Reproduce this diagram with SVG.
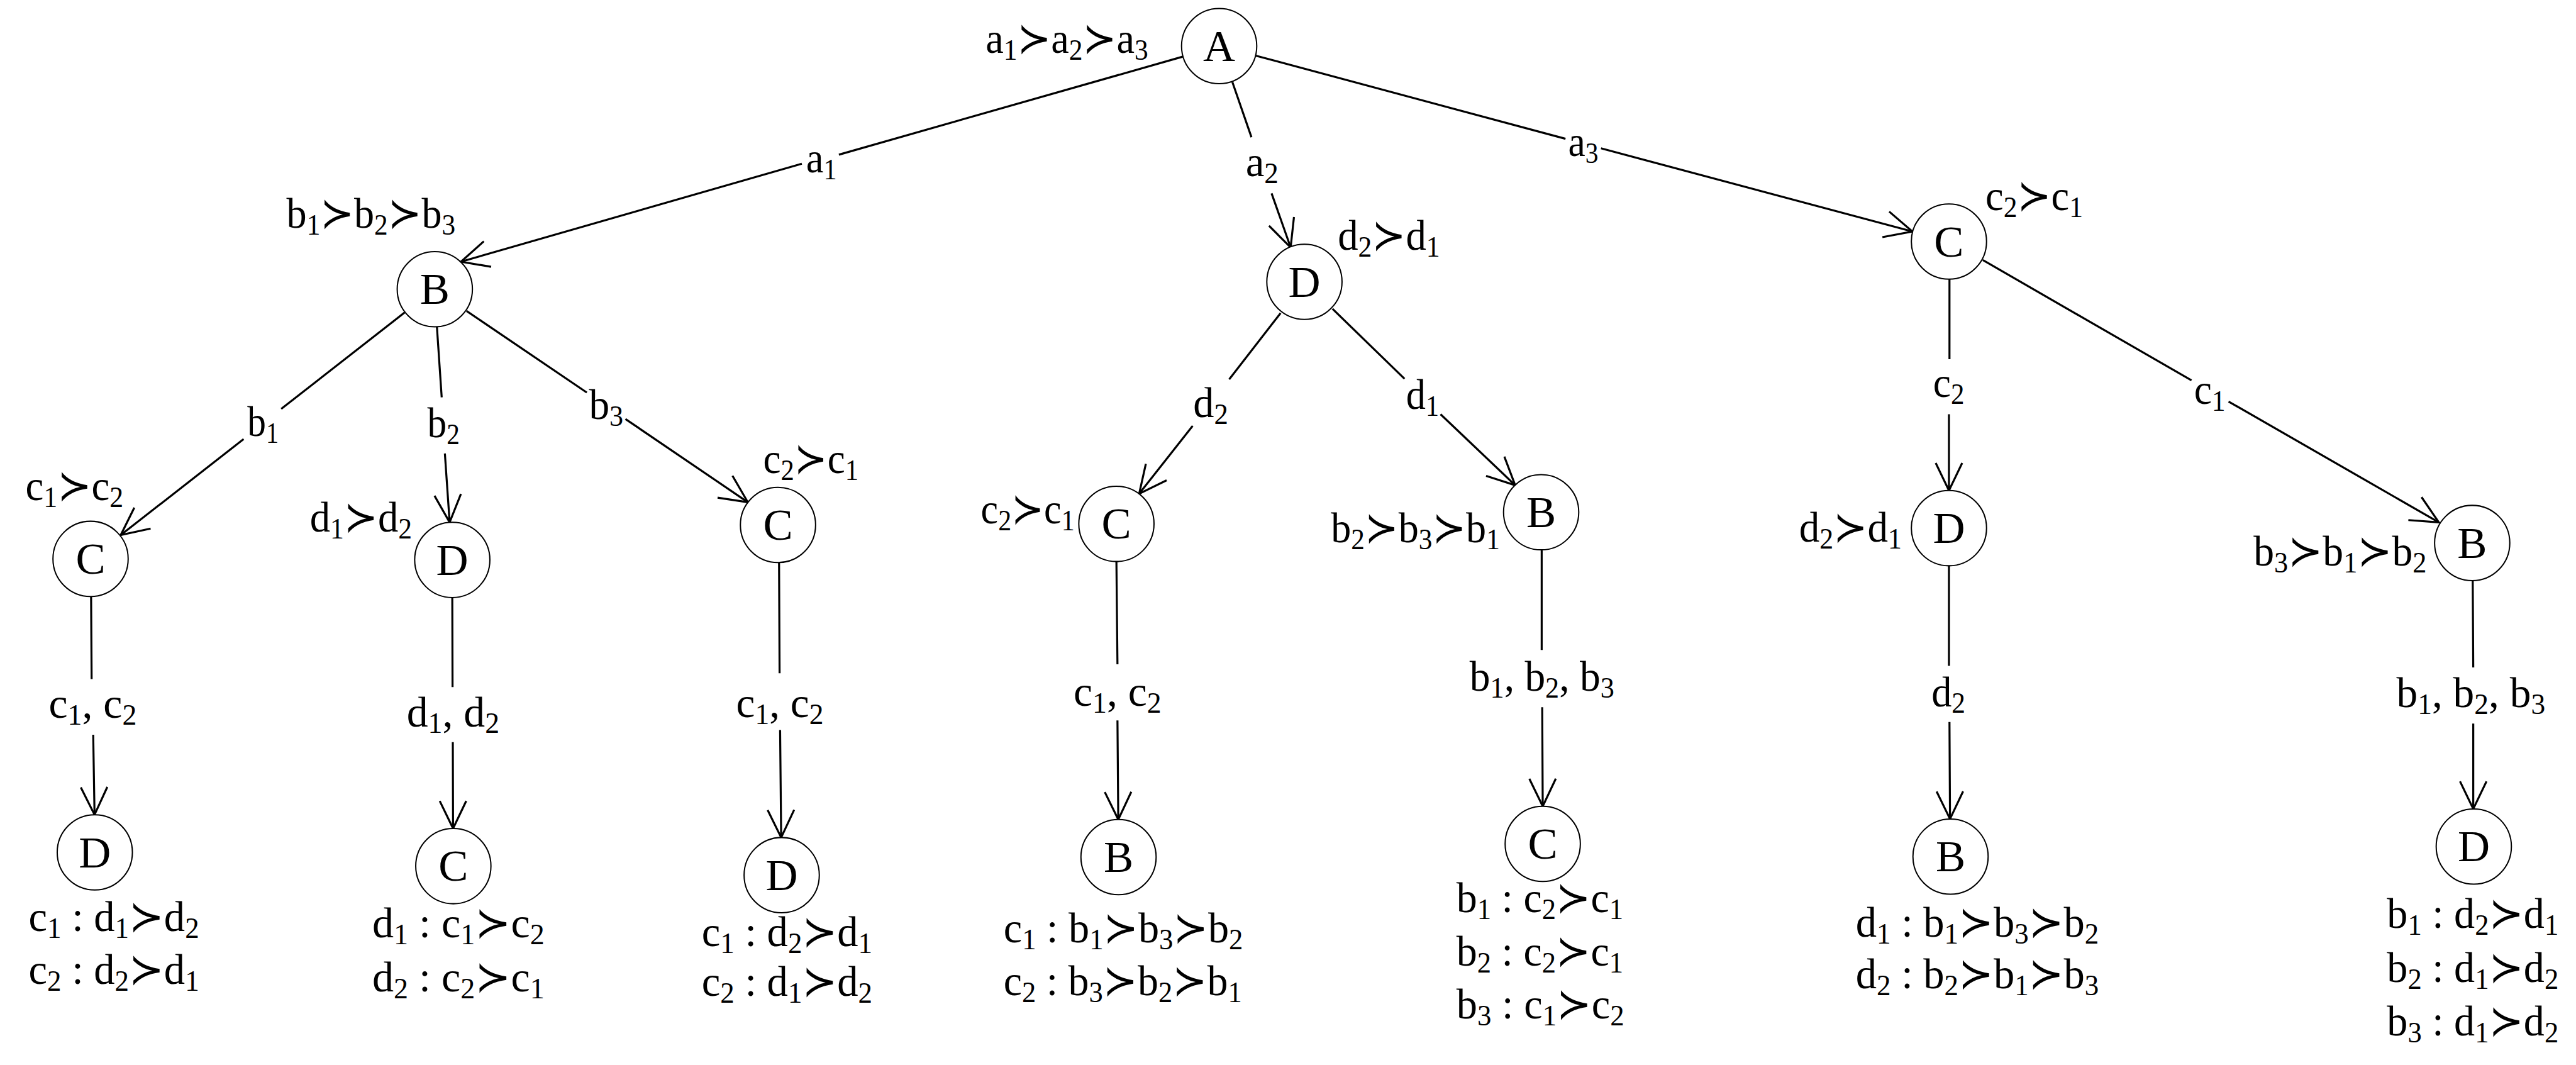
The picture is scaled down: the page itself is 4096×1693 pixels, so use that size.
<svg xmlns="http://www.w3.org/2000/svg" width="4096" height="1693" viewBox="0 0 4096 1693">
<style>
.n{fill:#fff;stroke:#000;stroke-width:2.4}
.nl{font-family:"Liberation Serif","DejaVu Serif","DejaVu Sans",serif;font-size:84px;text-anchor:middle;fill:#000}
.l{font-family:"Liberation Serif","DejaVu Serif","DejaVu Sans",serif;font-size:80px;fill:#000}
.s{font-size:54px}
.e{fill:none;stroke:#000;stroke-width:3.8;marker-end:url(#arr)}
</style>
<defs>
<marker id="arr" markerUnits="userSpaceOnUse" viewBox="-70 -40 80 80" markerWidth="80" markerHeight="80" refX="0" refY="0" orient="auto">
<path d="M-52,-25 L0,0 L-52,25" fill="none" stroke="#000" stroke-width="3.8" stroke-linejoin="miter"/>
</marker>
</defs>
<rect width="4096" height="1693" fill="#fff"/>
<g transform="scale(0.842105)">
<g id="connectors">
<path class="e" d="M2233,107 L1584,292 M1514,309 L870.5,494"/>
<path class="e" d="M2327,155 L2363,259 M2401,365 L2437,467"/>
<path class="e" d="M2371,105 L2956,262 M3023,280 L3611,437"/>
<path class="e" d="M764,590 L531,772 M460,829 L228,1010"/>
<path class="e" d="M825,617 L834,750 M840,856 L849,986"/>
<path class="e" d="M881,587 L1108,741 M1181,791 L1412,948"/>
<path class="e" d="M2418,591 L2321,716 M2252,804 L2151,932"/>
<path class="e" d="M2516,583 L2652,715 M2720,782 L2861,916"/>
<path class="e" d="M3681,527 L3681,678 M3680,782 L3680,926"/>
<path class="e" d="M3744,491 L4138,718 M4208,758 L4605,986"/>
<path class="e" d="M172,1126 L173,1282 M176,1387 L178.5,1538"/>
<path class="e" d="M854,1128 L854.5,1297 M855,1401 L855.5,1564"/>
<path class="e" d="M1471,1062 L1472,1271 M1473,1378 L1475,1581"/>
<path class="e" d="M2108,1060 L2110,1254 M2110,1360 L2111.5,1547"/>
<path class="e" d="M2911,1039 L2911,1227 M2912,1335 L2913,1522"/>
<path class="e" d="M3680,1068 L3680,1257 M3681,1363 L3682,1546"/>
<path class="e" d="M4669,1097 L4670,1260 M4670,1366 L4670,1527"/>
</g>
<g id="edge-labels">
<text class="l" x="1522" y="325" textLength="58" lengthAdjust="spacingAndGlyphs">a<tspan class="s" dy="13">1</tspan></text>
<text class="l" x="2352" y="333" textLength="62" lengthAdjust="spacingAndGlyphs">a<tspan class="s" dy="13">2</tspan></text>
<text class="l" x="2961" y="295" textLength="57" lengthAdjust="spacingAndGlyphs">a<tspan class="s" dy="13">3</tspan></text>
<text class="l" x="467" y="823" textLength="59" lengthAdjust="spacingAndGlyphs">b<tspan class="s" dy="13">1</tspan></text>
<text class="l" x="807" y="825" textLength="61" lengthAdjust="spacingAndGlyphs">b<tspan class="s" dy="13">2</tspan></text>
<text class="l" x="1112" y="791" textLength="65" lengthAdjust="spacingAndGlyphs">b<tspan class="s" dy="13">3</tspan></text>
<text class="l" x="2253" y="787" textLength="66" lengthAdjust="spacingAndGlyphs">d<tspan class="s" dy="13">2</tspan></text>
<text class="l" x="2655" y="772" textLength="62" lengthAdjust="spacingAndGlyphs">d<tspan class="s" dy="13">1</tspan></text>
<text class="l" x="3650" y="749" textLength="59" lengthAdjust="spacingAndGlyphs">c<tspan class="s" dy="13">2</tspan></text>
<text class="l" x="4143" y="762" textLength="59" lengthAdjust="spacingAndGlyphs">c<tspan class="s" dy="13">1</tspan></text>
<text class="l" x="92" y="1355" textLength="166" lengthAdjust="spacingAndGlyphs">c<tspan class="s" dy="13">1</tspan><tspan dy="-13">, c</tspan><tspan class="s" dy="13">2</tspan></text>
<text class="l" x="768" y="1371" textLength="175" lengthAdjust="spacingAndGlyphs">d<tspan class="s" dy="13">1</tspan><tspan dy="-13">, d</tspan><tspan class="s" dy="13">2</tspan></text>
<text class="l" x="1390" y="1354" textLength="165" lengthAdjust="spacingAndGlyphs">c<tspan class="s" dy="13">1</tspan><tspan dy="-13">, c</tspan><tspan class="s" dy="13">2</tspan></text>
<text class="l" x="2027" y="1332" textLength="166" lengthAdjust="spacingAndGlyphs">c<tspan class="s" dy="13">1</tspan><tspan dy="-13">, c</tspan><tspan class="s" dy="13">2</tspan></text>
<text class="l" x="2775" y="1304" textLength="273" lengthAdjust="spacingAndGlyphs">b<tspan class="s" dy="13">1</tspan><tspan dy="-13">, b</tspan><tspan class="s" dy="13">2</tspan><tspan dy="-13">, b</tspan><tspan class="s" dy="13">3</tspan></text>
<text class="l" x="3647" y="1333" textLength="64" lengthAdjust="spacingAndGlyphs">d<tspan class="s" dy="13">2</tspan></text>
<text class="l" x="4525" y="1335" textLength="281" lengthAdjust="spacingAndGlyphs">b<tspan class="s" dy="13">1</tspan><tspan dy="-13">, b</tspan><tspan class="s" dy="13">2</tspan><tspan dy="-13">, b</tspan><tspan class="s" dy="13">3</tspan></text>
</g>
<g id="nA"><circle class="n" cx="2302" cy="87" r="71"/><text class="nl" x="2302" y="115">A</text>
<text class="l" x="1861" y="100" textLength="307" lengthAdjust="spacingAndGlyphs">a<tspan class="s" dy="13">1</tspan><tspan dy="-13">≻a</tspan><tspan class="s" dy="13">2</tspan><tspan dy="-13">≻a</tspan><tspan class="s" dy="13">3</tspan></text></g>
<g id="nB1"><circle class="n" cx="821" cy="546" r="71"/><text class="nl" x="821" y="574">B</text>
<text class="l" x="541" y="430" textLength="319" lengthAdjust="spacingAndGlyphs">b<tspan class="s" dy="13">1</tspan><tspan dy="-13">≻b</tspan><tspan class="s" dy="13">2</tspan><tspan dy="-13">≻b</tspan><tspan class="s" dy="13">3</tspan></text></g>
<g id="nD3"><circle class="n" cx="2463" cy="532" r="71"/><text class="nl" x="2463" y="560">D</text>
<text class="l" x="2526" y="471" textLength="193" lengthAdjust="spacingAndGlyphs">d<tspan class="s" dy="13">2</tspan><tspan dy="-13">≻d</tspan><tspan class="s" dy="13">1</tspan></text></g>
<g id="nC4"><circle class="n" cx="3680" cy="456" r="71"/><text class="nl" x="3680" y="484">C</text>
<text class="l" x="3749" y="397" textLength="184" lengthAdjust="spacingAndGlyphs">c<tspan class="s" dy="13">2</tspan><tspan dy="-13">≻c</tspan><tspan class="s" dy="13">1</tspan></text></g>
<g id="nC5"><circle class="n" cx="171" cy="1055" r="71"/><text class="nl" x="171" y="1083">C</text>
<text class="l" x="48" y="944" textLength="185" lengthAdjust="spacingAndGlyphs">c<tspan class="s" dy="13">1</tspan><tspan dy="-13">≻c</tspan><tspan class="s" dy="13">2</tspan></text></g>
<g id="nD6"><circle class="n" cx="854" cy="1057" r="71"/><text class="nl" x="854" y="1085">D</text>
<text class="l" x="585" y="1003" textLength="193" lengthAdjust="spacingAndGlyphs">d<tspan class="s" dy="13">1</tspan><tspan dy="-13">≻d</tspan><tspan class="s" dy="13">2</tspan></text></g>
<g id="nC7"><circle class="n" cx="1469" cy="991" r="71"/><text class="nl" x="1469" y="1019">C</text>
<text class="l" x="1441" y="893" textLength="180" lengthAdjust="spacingAndGlyphs">c<tspan class="s" dy="13">2</tspan><tspan dy="-13">≻c</tspan><tspan class="s" dy="13">1</tspan></text></g>
<g id="nC8"><circle class="n" cx="2108" cy="989" r="71"/><text class="nl" x="2108" y="1017">C</text>
<text class="l" x="1852" y="988" textLength="177" lengthAdjust="spacingAndGlyphs">c<tspan class="s" dy="13">2</tspan><tspan dy="-13">≻c</tspan><tspan class="s" dy="13">1</tspan></text></g>
<g id="nB9"><circle class="n" cx="2910" cy="967" r="71"/><text class="nl" x="2910" y="995">B</text>
<text class="l" x="2513" y="1024" textLength="319" lengthAdjust="spacingAndGlyphs">b<tspan class="s" dy="13">2</tspan><tspan dy="-13">≻b</tspan><tspan class="s" dy="13">3</tspan><tspan dy="-13">≻b</tspan><tspan class="s" dy="13">1</tspan></text></g>
<g id="nD10"><circle class="n" cx="3680" cy="997" r="71"/><text class="nl" x="3680" y="1025">D</text>
<text class="l" x="3397" y="1022" textLength="194" lengthAdjust="spacingAndGlyphs">d<tspan class="s" dy="13">2</tspan><tspan dy="-13">≻d</tspan><tspan class="s" dy="13">1</tspan></text></g>
<g id="nB11"><circle class="n" cx="4668" cy="1025" r="71"/><text class="nl" x="4668" y="1053">B</text>
<text class="l" x="4255" y="1068" textLength="327" lengthAdjust="spacingAndGlyphs">b<tspan class="s" dy="13">3</tspan><tspan dy="-13">≻b</tspan><tspan class="s" dy="13">1</tspan><tspan dy="-13">≻b</tspan><tspan class="s" dy="13">2</tspan></text></g>
<g id="nD12"><circle class="n" cx="179" cy="1609" r="71"/><text class="nl" x="179" y="1637">D</text>
<text class="l" x="54" y="1757" textLength="322" lengthAdjust="spacingAndGlyphs">c<tspan class="s" dy="13">1</tspan><tspan dy="-13"> : d</tspan><tspan class="s" dy="13">1</tspan><tspan dy="-13">≻d</tspan><tspan class="s" dy="13">2</tspan></text>
<text class="l" x="54" y="1857" textLength="322" lengthAdjust="spacingAndGlyphs">c<tspan class="s" dy="13">2</tspan><tspan dy="-13"> : d</tspan><tspan class="s" dy="13">2</tspan><tspan dy="-13">≻d</tspan><tspan class="s" dy="13">1</tspan></text></g>
<g id="nC13"><circle class="n" cx="856" cy="1635" r="71"/><text class="nl" x="856" y="1663">C</text>
<text class="l" x="703" y="1769" textLength="325" lengthAdjust="spacingAndGlyphs">d<tspan class="s" dy="13">1</tspan><tspan dy="-13"> : c</tspan><tspan class="s" dy="13">1</tspan><tspan dy="-13">≻c</tspan><tspan class="s" dy="13">2</tspan></text>
<text class="l" x="703" y="1871" textLength="325" lengthAdjust="spacingAndGlyphs">d<tspan class="s" dy="13">2</tspan><tspan dy="-13"> : c</tspan><tspan class="s" dy="13">2</tspan><tspan dy="-13">≻c</tspan><tspan class="s" dy="13">1</tspan></text></g>
<g id="nD14"><circle class="n" cx="1476" cy="1652" r="71"/><text class="nl" x="1476" y="1680">D</text>
<text class="l" x="1325" y="1786" textLength="322" lengthAdjust="spacingAndGlyphs">c<tspan class="s" dy="13">1</tspan><tspan dy="-13"> : d</tspan><tspan class="s" dy="13">2</tspan><tspan dy="-13">≻d</tspan><tspan class="s" dy="13">1</tspan></text>
<text class="l" x="1325" y="1880" textLength="322" lengthAdjust="spacingAndGlyphs">c<tspan class="s" dy="13">2</tspan><tspan dy="-13"> : d</tspan><tspan class="s" dy="13">1</tspan><tspan dy="-13">≻d</tspan><tspan class="s" dy="13">2</tspan></text></g>
<g id="nB15"><circle class="n" cx="2112" cy="1618" r="71"/><text class="nl" x="2112" y="1646">B</text>
<text class="l" x="1895" y="1779" textLength="452" lengthAdjust="spacingAndGlyphs">c<tspan class="s" dy="13">1</tspan><tspan dy="-13"> : b</tspan><tspan class="s" dy="13">1</tspan><tspan dy="-13">≻b</tspan><tspan class="s" dy="13">3</tspan><tspan dy="-13">≻b</tspan><tspan class="s" dy="13">2</tspan></text>
<text class="l" x="1895" y="1879" textLength="450" lengthAdjust="spacingAndGlyphs">c<tspan class="s" dy="13">2</tspan><tspan dy="-13"> : b</tspan><tspan class="s" dy="13">3</tspan><tspan dy="-13">≻b</tspan><tspan class="s" dy="13">2</tspan><tspan dy="-13">≻b</tspan><tspan class="s" dy="13">1</tspan></text></g>
<g id="nC16"><circle class="n" cx="2913" cy="1593" r="71"/><text class="nl" x="2913" y="1621">C</text>
<text class="l" x="2750" y="1722" textLength="315" lengthAdjust="spacingAndGlyphs">b<tspan class="s" dy="13">1</tspan><tspan dy="-13"> : c</tspan><tspan class="s" dy="13">2</tspan><tspan dy="-13">≻c</tspan><tspan class="s" dy="13">1</tspan></text>
<text class="l" x="2750" y="1823" textLength="315" lengthAdjust="spacingAndGlyphs">b<tspan class="s" dy="13">2</tspan><tspan dy="-13"> : c</tspan><tspan class="s" dy="13">2</tspan><tspan dy="-13">≻c</tspan><tspan class="s" dy="13">1</tspan></text>
<text class="l" x="2750" y="1923" textLength="317" lengthAdjust="spacingAndGlyphs">b<tspan class="s" dy="13">3</tspan><tspan dy="-13"> : c</tspan><tspan class="s" dy="13">1</tspan><tspan dy="-13">≻c</tspan><tspan class="s" dy="13">2</tspan></text></g>
<g id="nB17"><circle class="n" cx="3683" cy="1617" r="71"/><text class="nl" x="3683" y="1645">B</text>
<text class="l" x="3504" y="1768" textLength="459" lengthAdjust="spacingAndGlyphs">d<tspan class="s" dy="13">1</tspan><tspan dy="-13"> : b</tspan><tspan class="s" dy="13">1</tspan><tspan dy="-13">≻b</tspan><tspan class="s" dy="13">3</tspan><tspan dy="-13">≻b</tspan><tspan class="s" dy="13">2</tspan></text>
<text class="l" x="3504" y="1866" textLength="459" lengthAdjust="spacingAndGlyphs">d<tspan class="s" dy="13">2</tspan><tspan dy="-13"> : b</tspan><tspan class="s" dy="13">2</tspan><tspan dy="-13">≻b</tspan><tspan class="s" dy="13">1</tspan><tspan dy="-13">≻b</tspan><tspan class="s" dy="13">3</tspan></text></g>
<g id="nD18"><circle class="n" cx="4671" cy="1598" r="71"/><text class="nl" x="4671" y="1626">D</text>
<text class="l" x="4507" y="1752" textLength="324" lengthAdjust="spacingAndGlyphs">b<tspan class="s" dy="13">1</tspan><tspan dy="-13"> : d</tspan><tspan class="s" dy="13">2</tspan><tspan dy="-13">≻d</tspan><tspan class="s" dy="13">1</tspan></text>
<text class="l" x="4507" y="1854" textLength="324" lengthAdjust="spacingAndGlyphs">b<tspan class="s" dy="13">2</tspan><tspan dy="-13"> : d</tspan><tspan class="s" dy="13">1</tspan><tspan dy="-13">≻d</tspan><tspan class="s" dy="13">2</tspan></text>
<text class="l" x="4507" y="1955" textLength="324" lengthAdjust="spacingAndGlyphs">b<tspan class="s" dy="13">3</tspan><tspan dy="-13"> : d</tspan><tspan class="s" dy="13">1</tspan><tspan dy="-13">≻d</tspan><tspan class="s" dy="13">2</tspan></text></g>
</g>
</svg>
